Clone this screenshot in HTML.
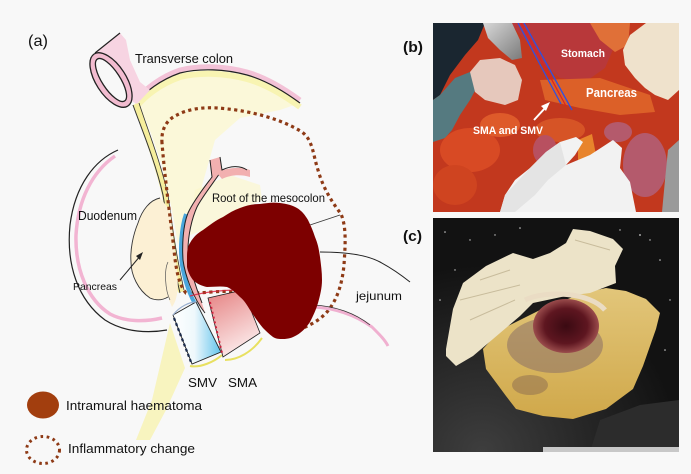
<!DOCTYPE html>
<html><head><meta charset="utf-8">
<style>
html,body{margin:0;padding:0;background:#f8f8f8;}
svg{display:block;}
text{font-family:"Liberation Sans",sans-serif;}
</style></head><body>
<svg width="691" height="474" viewBox="0 0 691 474" xmlns="http://www.w3.org/2000/svg">
<defs>
 <linearGradient id="smv" x1="0" y1="0" x2="1" y2="0">
   <stop offset="0" stop-color="#ffffff"/><stop offset="0.45" stop-color="#eef8fc"/><stop offset="1" stop-color="#62c4ec"/>
 </linearGradient>
 <linearGradient id="sma" x1="0" y1="0" x2="0.4" y2="1">
   <stop offset="0" stop-color="#e58080"/><stop offset="1" stop-color="#fbe8e8"/>
 </linearGradient>
 <radialGradient id="hem" cx="0.5" cy="0.5" r="0.5">
   <stop offset="0" stop-color="#3a0a12"/><stop offset="0.65" stop-color="#5e1620"/><stop offset="1" stop-color="#9a4c4c"/>
 </radialGradient>
 <linearGradient id="fat" x1="0" y1="0" x2="0" y2="1">
   <stop offset="0" stop-color="#e2c67a"/><stop offset="1" stop-color="#d0a84a"/>
 </linearGradient>
 <linearGradient id="metal" x1="0" y1="0" x2="1" y2="1">
   <stop offset="0" stop-color="#d8d8d8"/><stop offset="1" stop-color="#7a7a7a"/>
 </linearGradient>
 <radialGradient id="floor" cx="0.2" cy="1" r="0.8">
   <stop offset="0" stop-color="#3e3e3e"/><stop offset="1" stop-color="#121212"/>
 </radialGradient>
 <clipPath id="cb"><rect x="433" y="23" width="246" height="189"/></clipPath>
 <clipPath id="cc"><rect x="433" y="218" width="246" height="234"/></clipPath>
</defs>
<rect width="691" height="474" fill="#f8f8f8"/>

<!-- ============ (a) drawing ============ -->
<polygon points="137,102 153,87 180,73 213,70 247,75 273,85 300,103 280,110 240,118 215,140 205,175 198,200 186,215 178,245 172,210 162,165 148,125" fill="#fcf8d4" opacity="0.85"/>
<polygon points="195,190 230,175 260,185 262,200 230,215 205,230 190,235" fill="#fbf6c8" opacity="0.6"/>
<path d="M137,99 C145,89 160,77 180,70 C200,65 225,66 247,72 C265,77 285,89 300,100" fill="none" stroke="#f2b0cc" stroke-width="5" opacity="0.75"/>
<path d="M137,106 C145,96 160,84 180,77 C200,72 225,73 247,79 C265,84 285,96 300,107" fill="none" stroke="#f8f2a8" stroke-width="6" opacity="0.8"/>
<path d="M137,102 C145,92 160,80 180,73 C200,68 225,69 247,75 C265,80 285,92 300,103" fill="none" stroke="#222" stroke-width="1.2"/>
<polygon points="95,53 120,33 126,40 130,60 140,82 150,90 137,104 122,96" fill="#f7d4e2"/>
<path d="M95,53 L120,33" stroke="#222" stroke-width="1.2"/>
<ellipse cx="111" cy="80" rx="31" ry="15" transform="rotate(57 111 80)" fill="#f2bcd0" stroke="#222" stroke-width="1.3"/>
<ellipse cx="111" cy="80" rx="25" ry="9" transform="rotate(57 111 80)" fill="#f8f8f8" stroke="#222" stroke-width="1.3"/>
<path d="M136,104 C143,125 157,160 165,195 C170,225 174,258 181,292" fill="none" stroke="#f6ee9c" stroke-width="6"/>
<path d="M133,105 C140,125 155,160 163,195 C168,225 172,260 180,293" fill="none" stroke="#333" stroke-width="1"/>
<path d="M139,103 C146,125 160,160 168,195 C172,225 176,255 184,290" fill="none" stroke="#333" stroke-width="0.8"/>
<polygon points="170,323 185,368 166,410 150,440 136,440 152,400" fill="#f8f2b0" opacity="0.8"/>

<path d="M115,156 C92,172 78,200 76,235 C75,270 88,300 110,314 C125,322 145,322 162,318" fill="none" stroke="#f2b4d2" stroke-width="3.5"/>
<path d="M118,150 C95,160 75,185 70,225 C66,265 78,300 105,320 C125,333 150,333 167,330" fill="none" stroke="#222" stroke-width="1.2"/>

<path d="M160,198 C150,200 142,210 138,223 C133,235 130,250 131,262 C131,275 138,290 150,298 C157,301 163,300 168,297 L172,307 C177,300 179,290 177,270 L170,210 Z" fill="#fcf0d4"/>
<path d="M160,198 C150,200 142,210 138,223 C133,235 130,250 131,262 C131,275 138,290 150,298 C157,301 163,300 168,297" fill="none" stroke="#333" stroke-width="0.9"/>
<path d="M168,262 C164,270 165,290 170,300" fill="none" stroke="#555" stroke-width="0.7"/>
<line x1="120" y1="280" x2="141" y2="255" stroke="#222" stroke-width="1"/>
<polygon points="143,252 136,256 140,260" fill="#222"/>

<path d="M162,143 C161,130 166,120 177,115 C188,109 203,107 218,108 C245,110 278,117 302,132 C313,140 313,155 318,170 C323,188 332,202 341,214 C347,228 345,248 344,265 C342,285 337,300 327,312 C318,322 305,328 296,330 L265,327 C258,313 250,300 233,292 C220,290 200,294 186,293 C179,285 176,270 174,250 C170,215 165,180 162,143 Z" fill="none" stroke="#8e3a16" stroke-width="3.2" stroke-dasharray="3.2 3.4"/>

<path d="M320,252 C345,252 367,255 380,262 C395,270 405,278 410,282" fill="none" stroke="#222" stroke-width="1"/>
<path d="M313,307 C335,308 355,315 372,327 C380,335 385,340 388,346" fill="none" stroke="#f0b0d0" stroke-width="3"/>
<path d="M313,305 C335,306 355,313 370,325" fill="none" stroke="#333" stroke-width="0.7"/>
<line x1="310" y1="225" x2="340" y2="215" stroke="#333" stroke-width="0.8"/>

<path d="M210,160 L212,177 C206,185 194,200 188,213 C183,225 182,245 183,260 C185,275 193,298 205,313 L202,303 C195,285 189,265 188,250 C188,235 192,218 197,207 C202,197 214,182 222,170 L220,157 Z" fill="#f2b0b0"/>
<path d="M186,214 C181,228 180,250 182,265 C185,282 190,296 197,307" fill="none" stroke="#4aa6dc" stroke-width="4"/>
<path d="M210,160 L212,177 C206,185 194,200 188,213 C183,225 182,245 183,260 C185,275 193,298 205,313" fill="none" stroke="#222" stroke-width="1"/>
<path d="M220,157 L222,170 C214,182 202,197 197,207 C192,218 188,235 188,250 C189,265 195,285 202,303" fill="none" stroke="#222" stroke-width="1"/>
<path d="M216,172 C228,168 240,166 250,170 L250,177 C240,174 230,175 222,179 Z" fill="#f2b0b0"/>
<path d="M222,170 C230,166 240,165 247,170" fill="none" stroke="#222" stroke-width="1"/>

<polygon points="173,315 196,302 221,352 192,364" fill="url(#smv)" stroke="#222" stroke-width="0.9"/>
<path d="M174,318 L191,362" stroke="#1c2c4c" stroke-width="2.2" stroke-dasharray="3 2.5"/>
<path d="M173,315 C180,306 190,302 196,302" fill="none" stroke="#9ab0d0" stroke-width="1.2"/>
<path d="M190,366 C200,368 214,362 222,355" fill="none" stroke="#e8e060" stroke-width="2"/>
<polygon points="208,298 243,290 260,333 223,357" fill="url(#sma)" stroke="#222" stroke-width="0.8"/>
<path d="M210,302 L222,353" stroke="#d0203c" stroke-width="2" stroke-dasharray="2 3"/>
<path d="M225,360 C238,360 252,352 262,338" fill="none" stroke="#e8e060" stroke-width="2"/>
<path d="M190,296 C205,292 220,290 240,290" fill="none" stroke="#d8203c" stroke-width="1.2" opacity="0.8"/>

<path d="M187,257 C187,250 188,246 190,243 C194,236 198,233 203,230 C210,225 216,220 223,217 C229,213 234,210 240,208 C247,205 253,204 260,204 C267,203 273,202 280,203 C287,204 292,205 297,208 C302,211 305,215 308,220 C311,226 313,231 315,237 C318,244 319,250 320,257 C321,265 322,272 322,280 C322,288 320,296 318,303 C316,310 313,316 310,322 C306,328 302,332 297,335 C292,338 288,339 283,339 C279,339 276,339 273,337 C269,334 266,331 263,328 C258,322 254,316 250,310 C247,305 244,300 240,297 C236,293 232,289 227,287 C220,286 213,287 207,287 C202,286 197,284 193,280 C190,276 188,272 187,267 Z" fill="#7d0000"/>

<text x="28" y="46" font-size="16" textLength="20" lengthAdjust="spacingAndGlyphs" fill="#111">(a)</text>
<text x="135" y="63" font-size="13" textLength="98" lengthAdjust="spacingAndGlyphs" fill="#111">Transverse colon</text>
<text x="212" y="202" font-size="12" textLength="113" lengthAdjust="spacingAndGlyphs" fill="#111">Root of the mesocolon</text>
<text x="78" y="220" font-size="13" textLength="59" lengthAdjust="spacingAndGlyphs" fill="#111">Duodenum</text>
<text x="73" y="290" font-size="10.5" textLength="44" lengthAdjust="spacingAndGlyphs" fill="#111">Pancreas</text>
<text x="356" y="300" font-size="12" textLength="46" lengthAdjust="spacingAndGlyphs" fill="#111">jejunum</text>
<text x="188" y="387" font-size="13" textLength="29" lengthAdjust="spacingAndGlyphs" fill="#111">SMV</text>
<text x="228" y="387" font-size="13" textLength="29" lengthAdjust="spacingAndGlyphs" fill="#111">SMA</text>

<ellipse cx="43" cy="405" rx="16" ry="13.5" fill="#a23e0e"/>
<text x="66" y="410" font-size="13" textLength="136" lengthAdjust="spacingAndGlyphs" fill="#111">Intramural haematoma</text>
<ellipse cx="43" cy="450" rx="16.5" ry="13.5" fill="none" stroke="#8e3a16" stroke-width="3" stroke-dasharray="2.6 3.6"/>
<text x="68" y="453" font-size="13" textLength="127" lengthAdjust="spacingAndGlyphs" fill="#111">Inflammatory change</text>

<!-- ============ (b) photo ============ -->
<text x="403" y="52" font-size="15" font-weight="bold" textLength="20" lengthAdjust="spacingAndGlyphs" fill="#111">(b)</text>
<g clip-path="url(#cb)">
 <rect x="433" y="23" width="246" height="189" fill="#c2381e"/>
 <polygon points="510,23 605,23 615,45 605,68 585,82 560,78 540,62 525,40" fill="#b8383a"/>
 <polygon points="590,23 630,23 628,45 615,52 600,40" fill="#e07038"/>
 <polygon points="433,23 485,23 478,40 465,55 450,75 440,95 433,100" fill="#1a2630"/>
 <polygon points="433,100 440,95 455,78 470,72 478,85 470,100 460,115 452,130 445,138 433,142" fill="#557a80"/>
 <polygon points="483,23 512,23 520,40 522,58 512,60 500,50 488,38" fill="url(#metal)"/>
 <polygon points="470,72 480,60 500,58 515,65 522,80 518,100 505,105 485,100 475,92" fill="#e6c8bc"/>
 <polygon points="540,80 600,78 650,95 655,112 620,115 580,108 545,100" fill="#dc6028"/>
 <ellipse cx="470" cy="150" rx="30" ry="22" fill="#d84a24"/>
 <ellipse cx="455" cy="185" rx="22" ry="20" fill="#cf4420"/>
 <ellipse cx="500" cy="125" rx="20" ry="12" fill="#de5a2a"/>
 <ellipse cx="560" cy="130" rx="25" ry="12" fill="#d65426"/>
 <ellipse cx="545" cy="150" rx="12" ry="15" fill="#b85060"/>
 <polygon points="578,140 592,134 597,160 588,172 578,165" fill="#e8842c"/>
 <ellipse cx="645" cy="165" rx="22" ry="32" fill="#b45a6c"/>
 <ellipse cx="618" cy="132" rx="14" ry="10" fill="#b45a6c"/>
 <polygon points="500,212 505,195 515,180 530,168 546,152 560,142 576,137 583,142 575,155 566,165 590,155 613,140 622,148 620,168 630,182 636,212" fill="#f2f2f2"/>
 <polygon points="530,168 546,152 560,142 566,165 548,180 535,195 515,212 500,212 505,195" fill="#e4e4e4"/>
 <polygon points="623,50 630,35 646,23 679,23 679,90 668,100 655,95 645,88 635,78 625,65" fill="#efe2cc"/>
 <polygon points="668,150 679,140 679,212 662,212 665,180" fill="#9a9a9a"/>
 <line x1="518" y1="23" x2="561" y2="104" stroke="#3050e0" stroke-width="1.3"/>
 <line x1="521" y1="23" x2="566" y2="106" stroke="#e02020" stroke-width="1.2"/>
 <line x1="524" y1="23" x2="572" y2="110" stroke="#3050e0" stroke-width="1.3"/>
 <line x1="534" y1="120" x2="546" y2="107" stroke="#fff" stroke-width="2"/>
 <polygon points="550,102 541,106 546,111" fill="#fff"/>
 <text x="561" y="57" font-size="11" font-weight="bold" textLength="44" lengthAdjust="spacingAndGlyphs" fill="#fff">Stomach</text>
 <text x="586" y="97" font-size="13" font-weight="bold" textLength="51" lengthAdjust="spacingAndGlyphs" fill="#fff">Pancreas</text>
 <text x="473" y="134" font-size="11" font-weight="bold" textLength="70" lengthAdjust="spacingAndGlyphs" fill="#fff">SMA and SMV</text>
</g>

<!-- ============ (c) photo ============ -->
<text x="403" y="241" font-size="15" font-weight="bold" textLength="19" lengthAdjust="spacingAndGlyphs" fill="#111">(c)</text>
<g clip-path="url(#cc)">
 <rect x="433" y="218" width="246" height="234" fill="url(#floor)"/>
 <polygon points="600,420 640,405 679,400 679,452 590,452" fill="#2c2c2c"/>
 <g fill="#cfcfcf">
  <circle cx="445" cy="232" r="0.8"/><circle cx="470" cy="240" r="0.7"/><circle cx="520" cy="228" r="0.8"/>
  <circle cx="640" cy="235" r="0.9"/><circle cx="660" cy="260" r="0.8"/><circle cx="670" cy="300" r="0.7"/>
  <circle cx="650" cy="240" r="0.7"/><circle cx="455" cy="270" r="0.7"/><circle cx="440" cy="300" r="0.8"/>
  <circle cx="665" cy="350" r="0.8"/><circle cx="620" cy="230" r="0.7"/><circle cx="495" cy="235" r="0.7"/>
 </g>
 <polygon points="483,349 486,369 506,396 516,409 543,416 573,419 606,409 633,389 643,366 656,329 660,313 646,299 626,291 606,288 583,293 540,310 500,330" fill="url(#fat)"/>
 <polygon points="446,349 453,309 463,283 486,266 513,253 533,259 550,253 566,243 573,229 590,231 613,239 623,249 615,266 616,283 590,293 566,296 533,303 520,316 493,339 473,356 456,366 446,356" fill="#ece3c8"/>
 <path d="M460,300 L520,285 M470,320 L515,300 M480,280 L510,270 M575,240 L610,250" stroke="#c8bc9c" stroke-width="1" fill="none"/>
 <ellipse cx="555" cy="345" rx="48" ry="28" fill="#8a7066" opacity="0.55"/>
 <path d="M525,300 C545,290 590,292 605,310" fill="none" stroke="#eadcc4" stroke-width="5"/>
 <ellipse cx="566" cy="326" rx="33" ry="27" fill="url(#hem)"/>
 <ellipse cx="530" cy="385" rx="18" ry="10" fill="#8a6a50" opacity="0.5"/>
 <rect x="543" y="447" width="136" height="5" fill="#c8c8c8"/>
</g>
</svg>
</body></html>
